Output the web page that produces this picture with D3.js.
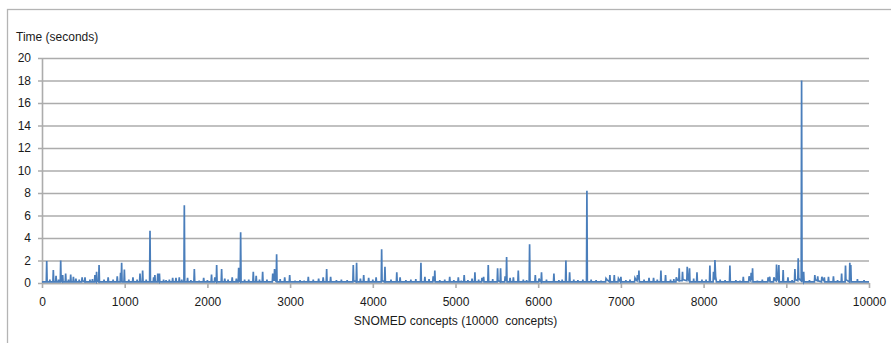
<!DOCTYPE html>
<html>
<head>
<meta charset="utf-8">
<script src="https://cdn.jsdelivr.net/npm/d3@7"></script>
<style>
  html, body { margin: 0; padding: 0; background: #fff; }
  svg text { font-family: "Liberation Sans", Arial, sans-serif; font-size: 12px; fill: #1a1a1a; }
</style>
</head>
<body>
<svg id="chart" width="891" height="343"></svg>
<script>
// Sampled timing series: [concept index, seconds]
const timings = [
  [0,0.1],[52,0.1],[57,1.95],[62,0.1],[92,0.1],[95,0.3],[98,0.1],[132,0.1],[137,1.15],[142,0.1],
  [165,0.1],[170,0.65],[175,0.1],[197,0.1],[200,0.3],[203,0.1],[221,0.1],[226,2.0],[231,0.15],
  [245,0.1],[250,0.7],[255,0.1],[281,0.1],[286,0.85],[291,0.1],[317,0.1],[320,0.3],[323,0.1],
  [342,0.1],[347,0.75],[352,0.1],[375,0.1],[380,0.55],[385,0.1],[405,0.1],[410,0.4],[415,0.1],
  [447,0.1],[450,0.3],[453,0.1],[480,0.1],[485,0.5],[490,0.2],[515,0.1],[520,0.5],[525,0.1],
  [577,0.1],[580,0.3],[583,0.1],[607,0.1],[610,0.35],[613,0.1],
  [635,0.1],[640,0.7],[645,0.2],[655,0.1],[660,1.0],[665,0.2],[685,0.1],[690,1.6],[695,0.1],
  [747,0.1],[750,0.3],[753,0.1],[795,0.1],[800,0.5],[805,0.1],[857,0.1],[860,0.3],[863,0.1],
  [905,0.1],[910,0.6],[915,0.1],[945,0.1],[950,0.9],[955,0.2],[958,0.1],[963,1.8],[968,0.1],[991,0.1],[996,1.2],[1001,0.1],
  [1047,0.1],[1050,0.3],[1053,0.1],[1095,0.1],[1100,0.5],[1105,0.1],[1147,0.1],[1150,0.3],[1153,0.1],
  [1180,0.1],[1185,0.85],[1190,0.1],[1212,0.1],[1217,1.1],[1222,0.1],[1257,0.1],[1260,0.3],[1263,0.1],
  [1301,0.1],[1306,4.65],[1311,0.1],[1345,0.1],[1350,0.5],[1355,0.1],[1360,0.1],[1365,0.7],[1370,0.1],
  [1395,0.1],[1400,0.85],[1405,0.2],[1415,0.1],[1420,0.85],[1425,0.1],
  [1467,0.1],[1470,0.3],[1473,0.1],[1497,0.1],[1500,0.25],[1503,0.1],[1537,0.1],[1540,0.3],[1543,0.1],
  [1575,0.1],[1580,0.45],[1585,0.1],[1615,0.1],[1620,0.45],[1625,0.1],[1655,0.1],[1660,0.5],[1665,0.1],
  [1687,0.1],[1690,0.3],[1693,0.1],[1716,0.1],[1721,6.9],[1726,0.1],[1755,0.1],[1760,0.45],[1765,0.1],
  [1797,0.1],[1800,0.25],[1803,0.1],[1837,0.1],[1842,1.25],[1847,0.1],[1897,0.1],[1900,0.2],[1903,0.1],
  [1950,0.1],[1955,0.45],[1960,0.1],[1997,0.1],[2000,0.25],[2003,0.1],
  [2045,0.1],[2050,0.75],[2055,0.1],[2085,0.1],[2090,0.5],[2095,0.2],[2107,0.1],[2112,1.6],[2117,0.1],
  [2167,0.1],[2172,1.25],[2177,0.1],[2205,0.1],[2210,0.4],[2215,0.1],[2247,0.1],[2250,0.3],[2253,0.1],
  [2295,0.1],[2300,0.5],[2305,0.1],[2345,0.1],[2350,0.4],[2355,0.1],
  [2373,0.1],[2378,1.35],[2383,0.2],[2397,0.1],[2402,4.5],[2407,0.1],
  [2447,0.1],[2450,0.3],[2453,0.1],[2497,0.1],[2500,0.3],[2503,0.1],
  [2550,0.1],[2555,1.0],[2560,0.1],[2585,0.1],[2590,0.65],[2595,0.1],[2627,0.1],[2630,0.3],[2633,0.1],
  [2663,0.1],[2668,1.0],[2673,0.1],[2717,0.1],[2720,0.3],[2723,0.1],
  [2785,0.1],[2790,0.85],[2800,0.4],[2807,0.2],[2812,1.25],[2820,0.3],[2832,0.1],[2837,2.55],[2842,0.1],
  [2877,0.1],[2880,0.35],[2883,0.1],[2930,0.1],[2935,0.5],[2940,0.1],[2990,0.1],[2995,0.7],[3000,0.1],
  [3057,0.1],[3060,0.2],[3063,0.1],[3117,0.1],[3120,0.25],[3123,0.1],[3167,0.1],[3170,0.2],[3173,0.1],
  [3215,0.1],[3220,0.55],[3225,0.1],[3277,0.1],[3280,0.3],[3283,0.1],
  [3340,0.1],[3345,0.4],[3350,0.1],[3395,0.1],[3400,0.5],[3405,0.1],[3437,0.1],[3442,1.25],[3447,0.1],
  [3485,0.1],[3490,0.55],[3495,0.1],
  [3557,0.1],[3560,0.25],[3563,0.1],[3617,0.1],[3620,0.3],[3623,0.1],[3687,0.1],[3690,0.25],[3693,0.1],
  [3759,0.1],[3764,1.6],[3769,0.2],[3799,0.1],[3804,1.8],[3809,0.1],
  [3845,0.1],[3850,0.4],[3855,0.1],[3885,0.1],[3890,0.7],[3895,0.1],[3945,0.1],[3950,0.45],[3955,0.1],
  [3997,0.1],[4000,0.3],[4003,0.1],[4035,0.1],[4040,0.5],[4045,0.1],
  [4102,0.1],[4107,3.0],[4112,0.2],[4142,0.1],[4147,1.45],[4152,0.1],[4217,0.1],[4220,0.3],[4223,0.1],
  [4285,0.1],[4290,0.95],[4295,0.1],[4325,0.1],[4330,0.5],[4335,0.1],
  [4397,0.1],[4400,0.25],[4403,0.1],[4457,0.1],[4460,0.3],[4463,0.1],[4517,0.1],[4520,0.35],[4523,0.1],
  [4577,0.1],[4582,1.8],[4587,0.1],[4625,0.1],[4630,0.55],[4635,0.1],[4677,0.1],[4680,0.35],[4683,0.1],
  [4725,0.1],[4730,0.6],[4740,0.2],[4745,0.2],[4750,1.1],[4755,0.1],
  [4807,0.1],[4810,0.25],[4813,0.1],[4867,0.1],[4870,0.3],[4873,0.1],
  [4925,0.1],[4930,0.55],[4935,0.1],[4977,0.1],[4980,0.25],[4983,0.1],
  [5029,0.1],[5034,0.5],[5039,0.1],[5067,0.1],[5070,0.2],[5073,0.1],[5100,0.1],[5105,0.7],[5110,0.1],
  [5147,0.1],[5150,0.25],[5153,0.1],[5195,0.1],[5200,0.4],[5205,0.1],[5230,0.1],[5235,0.95],[5240,0.1],
  [5277,0.1],[5280,0.3],[5283,0.1],[5315,0.1],[5320,0.45],[5330,0.2],[5336,0.2],[5340,0.55],[5345,0.1],
  [5391,0.1],[5396,1.6],[5401,0.1],[5447,0.1],[5450,0.35],[5453,0.1],
  [5504,0.1],[5509,1.3],[5514,0.2],[5540,0.1],[5545,1.3],[5550,0.1],
  [5595,0.1],[5600,0.6],[5610,0.3],[5613,0.2],[5618,2.3],[5623,0.1],
  [5655,0.1],[5660,0.45],[5665,0.1],[5695,0.1],[5700,0.5],[5705,0.1],[5754,0.1],[5759,1.1],[5764,0.1],
  [5817,0.1],[5820,0.3],[5823,0.1],[5857,0.1],[5860,0.25],[5863,0.1],
  [5891,0.1],[5896,3.45],[5901,0.1],
  [5960,0.1],[5965,0.7],[5970,0.1],[6005,0.1],[6010,0.4],[6020,0.2],[6035,0.1],[6040,0.95],[6045,0.1],
  [6097,0.1],[6100,0.3],[6103,0.1],[6185,0.1],[6190,0.85],[6195,0.1],
  [6247,0.1],[6250,0.25],[6253,0.1],[6287,0.1],[6290,0.3],[6293,0.1],
  [6330,0.1],[6335,2.0],[6340,0.1],[6375,0.1],[6380,0.95],[6385,0.1],
  [6427,0.1],[6430,0.3],[6433,0.1],[6477,0.1],[6480,0.25],[6483,0.1],[6537,0.1],[6540,0.3],[6543,0.1],
  [6584,0.1],[6589,8.2],[6594,0.1],
  [6637,0.1],[6640,0.3],[6643,0.1],[6697,0.1],[6700,0.25],[6703,0.1],[6757,0.1],[6760,0.2],[6763,0.1],
  [6815,0.1],[6820,0.4],[6830,0.3],[6862,0.1],[6867,0.7],[6872,0.1],
  [6915,0.1],[6920,0.7],[6925,0.1],[6965,0.1],[6970,0.4],[6985,0.2],[6995,0.1],[7000,0.55],[7005,0.1],
  [7057,0.1],[7060,0.25],[7063,0.1],[7107,0.1],[7110,0.3],[7113,0.1],
  [7165,0.1],[7170,0.45],[7180,0.3],[7195,0.2],[7200,0.7],[7210,0.4],[7214,0.3],[7218,1.1],[7223,0.1],
  [7277,0.1],[7280,0.3],[7283,0.1],
  [7335,0.1],[7340,0.45],[7345,0.1],[7390,0.1],[7395,0.45],[7400,0.1],[7437,0.1],[7440,0.3],[7443,0.1],
  [7479,0.1],[7484,1.1],[7489,0.1],[7535,0.1],[7540,0.7],[7545,0.1],
  [7597,0.1],[7600,0.3],[7603,0.1],[7637,0.1],[7640,0.35],[7643,0.1],
  [7665,0.1],[7670,0.5],[7680,0.3],[7700,0.2],[7705,1.3],[7710,0.2],[7740,0.2],[7745,1.0],[7750,0.3],
  [7797,0.2],[7802,1.45],[7810,0.4],[7825,0.2],[7830,1.3],[7835,0.1],
  [7877,0.1],[7880,0.4],[7883,0.1],[7915,0.1],[7920,0.95],[7925,0.1],
  [7977,0.1],[7980,0.3],[7983,0.1],[8027,0.1],[8030,0.3],[8033,0.1],
  [8071,0.1],[8076,1.55],[8081,0.1],[8115,0.1],[8120,1.0],[8128,0.4],[8132,0.3],[8137,2.05],[8145,0.6],[8155,0.1],
  [8197,0.1],[8200,0.3],[8203,0.1],[8257,0.1],[8260,0.25],[8263,0.1],
  [8313,0.1],[8318,1.55],[8323,0.1],[8387,0.1],[8390,0.25],[8393,0.1],[8437,0.1],[8440,0.2],[8443,0.1],
  [8475,0.1],[8480,0.55],[8485,0.1],[8545,0.1],[8550,0.6],[8560,0.3],[8570,0.2],[8575,0.9],[8583,0.4],[8588,0.3],[8592,1.3],[8597,0.1],
  [8647,0.1],[8650,0.2],[8653,0.1],[8707,0.1],[8710,0.3],[8713,0.1],
  [8775,0.1],[8780,0.5],[8790,0.3],[8800,0.55],[8805,0.1],
  [8845,0.1],[8850,0.5],[8860,0.3],[8877,0.2],[8882,1.65],[8890,0.4],[8905,0.2],[8910,1.6],[8915,0.1],[8957,0.1],[8962,1.15],[8967,0.1],
  [9015,0.1],[9020,0.5],[9025,0.1],[9067,0.1],[9070,0.25],[9073,0.1],
  [9099,0.1],[9104,1.25],[9110,0.3],[9139,0.2],[9144,2.2],[9150,0.4],[9180,0.2],[9185,18.0],[9190,0.3],[9205,0.1],[9210,1.0],[9215,0.1],
  [9277,0.1],[9280,0.25],[9283,0.1],
  [9340,0.1],[9345,0.7],[9350,0.3],[9375,0.2],[9380,0.6],[9385,0.2],[9425,0.1],[9430,0.55],[9440,0.3],[9455,0.2],[9460,0.5],[9465,0.1],
  [9505,0.1],[9510,0.55],[9515,0.1],[9565,0.1],[9570,0.6],[9575,0.1],[9617,0.1],[9620,0.25],[9623,0.1],
  [9664,0.1],[9669,0.85],[9674,0.1],[9711,0.1],[9716,1.55],[9721,0.3],[9763,0.1],[9768,1.8],[9773,0.4],[9780,1.6],[9785,0.1],
  [9857,0.1],[9860,0.35],[9863,0.1],[9937,0.1],[9940,0.25],[9943,0.1],[10000,0.1]
];
const yTicks = [0, 2, 4, 6, 8, 10, 12, 14, 16, 18, 20];
const xTicks = [0, 1000, 2000, 3000, 4000, 5000, 6000, 7000, 8000, 9000, 10000];
const yTitle = "Time (seconds)";
const xTitle = "SNOMED concepts (10000  concepts)";

const svg = d3.select("#chart");
const plot = { left: 42, right: 869, top: 58, bottom: 283 };

const x = d3.scaleLinear().domain([0, 10000]).range([plot.left, plot.right]);
const y = d3.scaleLinear().domain([0, 20]).range([plot.bottom, plot.top]);

// Chart frame
svg.append("rect")
  .attr("x", 7.5).attr("y", 9.5)
  .attr("width", 920).attr("height", 400)
  .attr("fill", "none").attr("stroke", "#b4b4b4").attr("stroke-width", 1.3);

// Horizontal gridlines
const gy = svg.append("g").attr("transform", `translate(${plot.right},0)`);
gy.call(d3.axisLeft(y).tickValues(yTicks).tickSize(plot.right - plot.left + 4).tickFormat(""));
gy.select(".domain").remove();
gy.selectAll(".tick line").attr("stroke", "#acacac").attr("stroke-width", 1.6);

// Y axis labels
const gyl = svg.append("g").attr("transform", `translate(${plot.left},0)`);
gyl.call(d3.axisLeft(y).tickValues(yTicks).tickSize(0).tickPadding(11).tickFormat(d3.format("d")));
gyl.select(".domain").attr("stroke", "#acacac").attr("stroke-width", 1.6);
gyl.selectAll(".tick text").attr("font-family", null).attr("font-size", null).attr("fill", "#1a1a1a");

// X axis
const gx = svg.append("g").attr("transform", `translate(0,${plot.bottom})`);
gx.call(d3.axisBottom(x).tickValues(xTicks).tickSize(5).tickSizeOuter(0).tickPadding(9).tickFormat(d3.format("d")));
gx.select(".domain").attr("stroke", "#acacac").attr("stroke-width", 1.6);
gx.selectAll(".tick line").attr("stroke", "#acacac").attr("stroke-width", 1.6);
gx.selectAll(".tick text").attr("font-family", null).attr("font-size", null).attr("fill", "#1a1a1a");

// Series line
svg.append("path")
  .datum(timings)
  .attr("fill", "none")
  .attr("stroke", "#4a7ebb")
  .attr("stroke-width", 1.7)
  .attr("stroke-linejoin", "miter")
  .attr("d", d3.line().x(d => x(d[0])).y(d => y(d[1])));

// Titles
svg.append("text").attr("x", 16).attr("y", 41).text(yTitle);
svg.append("text")
  .attr("x", (plot.left + plot.right) / 2).attr("y", 325)
  .attr("text-anchor", "middle")
  .style("white-space", "pre")
  .text(xTitle);
</script>
</body>
</html>
